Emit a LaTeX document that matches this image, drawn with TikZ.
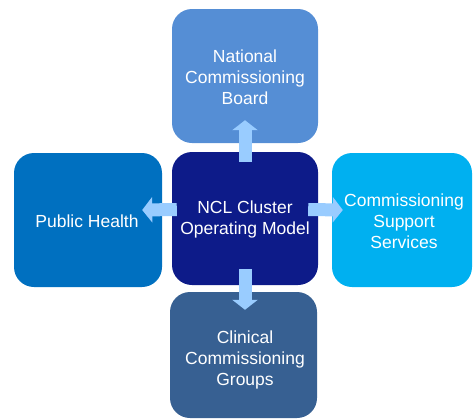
\documentclass[tikz,border=0pt]{standalone}
\usepackage{fontspec}
\setmainfont{Liberation Sans}
\usetikzlibrary{arrows.meta,calc}
\definecolor{topc}{HTML}{558ED5}
\definecolor{ctrc}{HTML}{0D1B89}
\definecolor{leftc}{HTML}{0070C0}
\definecolor{rightc}{HTML}{00B0F0}
\definecolor{botc}{HTML}{376092}
\definecolor{arrc}{HTML}{99CCFF}
\tikzset{
  box/.style={rectangle, rounded corners=20pt, inner sep=0pt, draw=none,
    text=white, align=center, font=\fontsize{17.5}{21}\selectfont},
  blockarrow/.style={draw=arrc, line width=13pt,
    -{Triangle[width=25pt,length=10pt,fill=arrc]}}
}
\begin{document}
\begin{tikzpicture}[x=1pt,y=-1pt]
\useasboundingbox (0,0) rectangle (474,418);
\node[box, fill=topc, minimum width=146pt, minimum height=134pt] (top) at (245,76) {};
\node[box, fill=ctrc, minimum width=146pt, minimum height=133pt] (ctr) at (245,218.5) {};
\node[box, fill=leftc, minimum width=148pt, minimum height=134pt] (lft) at (88,220) {};
\node[box, fill=rightc, minimum width=140pt, minimum height=134pt] (rgt) at (402,220) {};
\node[box, fill=botc, minimum width=147pt, minimum height=126pt] (bot) at (243.5,355) {};
% texts
\node[box] (toptext) at (245,77) {National\\Commissioning\\Board};
\node[box] (ctrtext) at (245,219) {NCL Cluster\\Operating Model};
\node[box] (lfttext) at (87,221) {Public Health};
\node[box] (rgttext) at (404,221) {Commissioning\\Support\\Services};
\node[box] (bottext) at (245,360) {Clinical\\Commissioning\\Groups};
% arrows
\draw[blockarrow] ($(ctr.north)+(0,10)$) -- ($(top.south)+(0,-23)$);
\draw[blockarrow] ($(ctr.west)+(5,-9)$) -- ($(lft.east)+(-20,-10)$);
\draw[blockarrow] ($(ctr.east)+(-10,-9)$) -- ($(rgt.west)+(11,-10)$);
\draw[blockarrow] ($(ctr.south)+(0,-16)$) -- ($(bot.north)+(1.5,18)$);
\end{tikzpicture}
\end{document}
